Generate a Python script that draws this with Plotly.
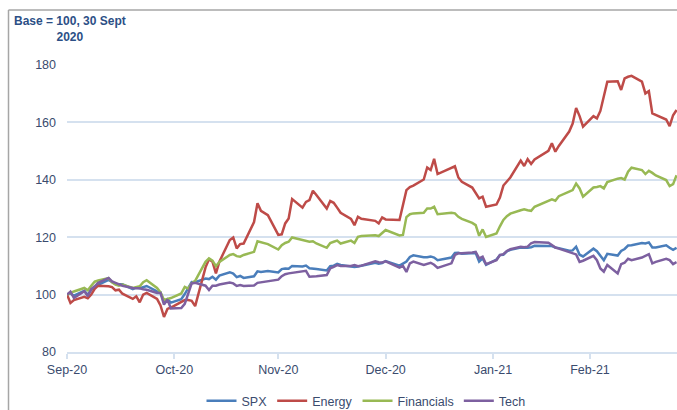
import pandas as pd
import plotly.graph_objects as go

# Trading days from 30 Sep 2020 to 25 Mar 2021 (US market holidays removed)
holidays = ["2020-11-26", "2020-12-25", "2021-01-01", "2021-01-18", "2021-02-15"]
dates = [d for d in pd.bdate_range("2020-09-30", "2021-03-25") if d.strftime("%Y-%m-%d") not in holidays]

spx = [100, 100.5, 99.6, 101.3, 99.9, 101.7, 102.5, 103.4, 105.1, 104.4, 103.7, 103.6, 103.6,
       101.9, 102.4, 102.2, 102.7, 103.0, 101.1, 100.8, 97.3, 98.4, 97.2,
       98.4, 100.2, 102.4, 104.4, 104.3, 105.6, 105.4, 106.2, 105.2, 106.6, 107.8, 107.3, 106.1,
       106.5, 105.8, 106.4, 108.1, 107.9, 108.2, 107.7,
       108.9, 109.1, 109.0, 110.0, 109.8, 110.1, 109.2, 109.1, 108.9, 108.4, 109.9, 110.1, 110.7,
       110.3, 109.9, 109.6, 109.8, 110.1, 111.1, 110.8, 111.0, 111.7,
       110.1, 110.8, 111.5, 113.1, 113.7, 113.0, 113.0, 113.3, 112.9, 112.0, 112.9, 114.5, 114.6,
       114.2, 114.6, 114.5, 111.5, 112.6, 110.4,
       112.2, 113.8, 113.9, 115.1, 115.6, 116.4, 116.3, 116.3, 116.5, 117.0, 116.9, 116.9, 116.4,
       116.2, 115.3, 115.4, 116.7, 113.9, 113.3,
       116.0, 115.1, 113.6, 112.0, 114.2, 113.6, 115.2, 115.9, 117.1, 117.2, 118.0, 117.8, 118.2,
       116.4, 116.4, 117.2, 116.3, 115.6, 116.3]

energy = [100, 97.1, 98.1, 99.2, 98.7, 100.0, 102.0, 103.1, 102.9, 102.6, 101.5, 101.7, 100.3,
          98.5, 99.4, 97.3, 100.0, 100.6, 98.5, 96.2, 92.2, 95.0, 95.5,
          97.3, 98.1, 98.1, 97.8, 96.0, 109.5, 112.3, 111.5, 107.4, 111.5, 119.0, 119.9, 116.1,
          117.6, 117.8, 125.3, 131.8, 129.2, 127.7, 120.8,
          121.0, 124.8, 126.5, 133.3, 130.3, 132.3, 132.9, 136.2, 134.7, 130.0, 132.6, 132.0, 130.3,
          128.5, 126.4, 124.2, 127.1, 126.4, 125.7, 124.8, 126.9, 126.2,
          126.0, 131.2, 136.4, 137.5, 138.0, 140.1, 144.3, 143.4, 147.3, 142.0, 144.0, 144.7, 140.8,
          139.3, 137.3, 135.3, 133.5, 134.1, 130.6,
          131.4, 133.8, 138.0, 139.5, 140.8, 146.7, 144.8, 147.2, 145.5, 147.1, 150.1, 152.7, 149.8,
          151.8, 156.8, 159.6, 165.0, 162.2, 158.5,
          162.2, 161.4, 164.0, 168.9, 174.2, 174.3, 171.3, 175.3, 175.9, 176.2, 174.2, 170.1, 170.9,
          163.1, 162.6, 161.0, 158.7, 162.5, 164.3]

financials = [100, 100.6, 101.1, 102.3, 101.5, 103.1, 104.5, 104.9, 105.7, 104.3, 103.5, 103.1, 103.5,
              102.3, 102.7, 102.9, 104.3, 105.0, 102.3, 100.8, 98.1, 98.5, 98.8,
              100.4, 102.7, 102.1, 103.9, 104.8, 111.4, 112.6, 111.8, 109.9, 111.4, 113.8, 114.1, 113.4,
              113.2, 113.8, 114.9, 118.6, 118.2, 117.6, 115.7,
              117.2, 118.0, 118.4, 119.9, 119.0, 118.8, 118.4, 118.6, 117.8, 116.3, 118.0, 118.4, 118.8,
              117.8, 118.8, 118.0, 120.1, 120.4, 120.7, 120.4, 121.3, 122.5,
              120.6, 120.8, 127.0, 128.0, 128.3, 128.5, 130.0, 130.0, 130.6, 128.0, 128.5, 128.3, 127.1,
              126.4, 125.0, 124.2, 120.5, 122.7, 120.1,
              121.3, 123.8, 126.0, 127.3, 128.2, 129.4, 129.7, 129.4, 129.2, 130.6, 132.9, 133.2, 132.7,
              134.3, 135.9, 136.4, 138.7, 137.0, 134.1,
              137.3, 137.5, 137.8, 137.0, 139.2, 140.4, 140.6, 140.1, 142.8, 144.2, 143.4, 142.0, 143.1,
              142.4, 141.5, 139.9, 137.8, 138.5, 141.6]

tech = [100, 101.0, 98.8, 101.2, 99.4, 101.9, 102.9, 104.1, 105.8, 104.6, 104.1, 103.5, 103.1,
        102.3, 102.3, 102.2, 101.9, 101.7, 100.6, 100.6, 96.5, 98.3, 95.2,
        95.3, 96.8, 100.8, 103.9, 104.1, 103.1, 101.6, 103.1, 103.1, 103.5, 104.2, 103.9, 103.0,
        103.3, 103.0, 103.2, 104.1, 104.3, 104.8, 105.2,
        106.4, 107.1, 107.4, 107.6, 108.2, 108.3, 106.2, 106.4, 106.4, 106.8, 109.1, 109.7, 110.3,
        110.0, 110.0, 110.3, 109.9, 110.1, 111.6, 111.3, 111.2, 111.6,
        109.4, 110.0, 107.9, 110.9, 111.5, 110.3, 110.6, 111.1, 110.4, 109.3, 110.9, 113.8, 114.4,
        114.4, 114.7, 114.9, 112.6, 113.2, 110.6,
        112.0, 113.8, 114.1, 115.2, 115.8, 116.7, 116.5, 116.7, 117.9, 118.3, 118.1, 117.3, 116.4,
        116.0, 114.8, 114.3, 114.0, 111.4, 111.8,
        113.5, 112.0, 109.1, 108.0, 110.3, 107.4, 110.6, 111.1, 112.5, 112.0, 112.9, 113.6, 114.1,
        110.9, 111.4, 112.5, 112.0, 110.6, 111.3]

tick_dates = ["2020-09-30", "2020-10-31", "2020-11-30", "2020-12-31", "2021-01-31", "2021-02-28"]
tick_labels = ["Sep-20", "Oct-20", "Nov-20", "Dec-20", "Jan-21", "Feb-21"]
y_ticks = [80, 100, 120, 140, 160, 180]

series = [("SPX", spx, "#4A7EBB"), ("Energy", energy, "#BE4B48"),
          ("Financials", financials, "#98B954"), ("Tech", tech, "#7D60A0")]

assert all(len(s[1]) == len(dates) for s in series), [len(s[1]) for s in series] + [len(dates)]

FONT = "Liberation Sans, Arial, sans-serif"
TXT = "#3A4B6E"
GRID = "#D5E1EF"

fig = go.Figure()
for name, vals, col in series:
    fig.add_trace(go.Scatter(x=dates, y=vals, mode="lines", name=name,
                             line=dict(color=col, width=2.5)))

FW, FH = 677, 410
L, T, W, H = 67, 65, 610, 287


def px_x(p):  # screen pixel -> paper x
    return (p - L) / W


def px_y(p):  # screen pixel -> paper y
    return 1 - (p - T) / H


fig.update_layout(
    width=FW, height=FH,
    margin=dict(l=L, r=FW - L - W, t=T, b=FH - T - H, pad=0, autoexpand=False),
    paper_bgcolor="white", plot_bgcolor="white",
    font=dict(family=FONT, size=12, color=TXT),
    showlegend=True,
    legend=dict(orientation="h", xref="container", yref="container",
                x=366 / FW, xanchor="center", y=1 - 401 / FH, yanchor="middle",
                font=dict(family=FONT, size=12.5, color=TXT), itemwidth=30, tracegroupgap=0,
                bgcolor="rgba(0,0,0,0)"),
    xaxis=dict(type="date", range=["2020-09-30", "2021-03-25 03:00"],
               tickvals=tick_dates, ticktext=tick_labels, automargin=False,
               showgrid=False, zeroline=False, showline=True, linecolor=GRID, linewidth=2,
               ticks="outside", ticklen=5, tickcolor=GRID, tickwidth=1.5,
               tickfont=dict(family=FONT, size=12.5, color=TXT)),
    yaxis=dict(range=[80, 180], tickvals=y_ticks, showgrid=True, gridcolor=GRID, gridwidth=1.5,
               zeroline=False, showline=False, ticks="", ticklabelstandoff=10, automargin=False,
               tickfont=dict(family=FONT, size=12.5, color=TXT)),
    annotations=[dict(text="<b>Base = 100, 30 Sept<br>2020</b>", xref="paper", yref="paper",
                      x=px_x(70), y=px_y(29), xanchor="center", yanchor="middle", align="center",
                      showarrow=False, font=dict(family=FONT, size=12, color="#2C4F86"))],
    shapes=[dict(type="line", xref="paper", yref="paper", x0=px_x(8.5), x1=px_x(8.5), y0=px_y(10), y1=px_y(415),
                 line=dict(color="#A6A6A6", width=1.5)),
            dict(type="line", xref="paper", yref="paper", x0=px_x(8.5), x1=px_x(690), y0=px_y(10), y1=px_y(10),
                 line=dict(color="#A6A6A6", width=1.5))],
)

# remove the browser's default 8px body margin so the figure fills the 677x410 window exactly
fig.write_html("out.html", config={"displayModeBar": False},
               post_script="document.body.style.margin='0';document.body.style.overflow='hidden';")
